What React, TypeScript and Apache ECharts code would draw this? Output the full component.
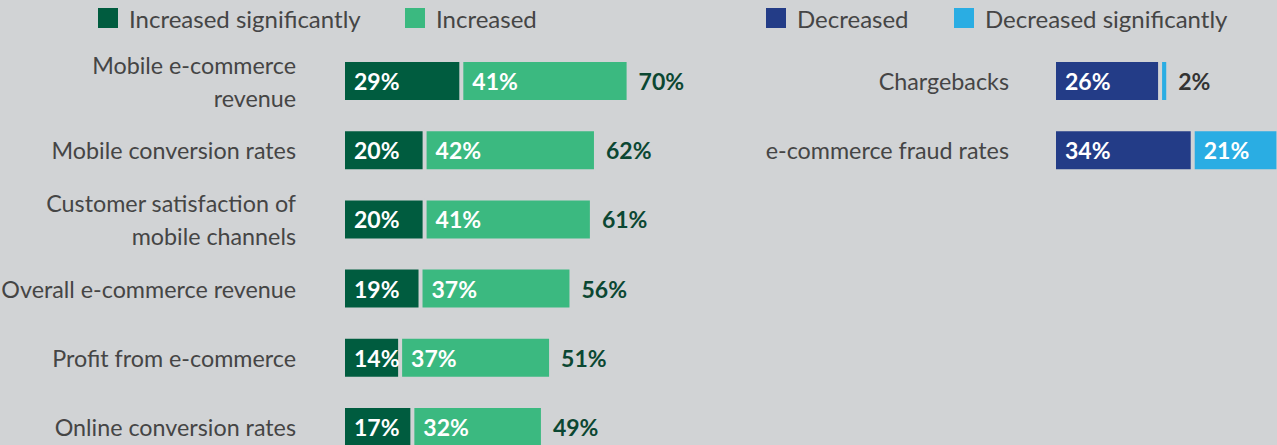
import React, { useEffect, useRef } from "react";
import * as echarts from "echarts";

const categories = [
  "Mobile e-commerce\nrevenue",
  "Mobile conversion rates",
  "Customer satisfaction of\nmobile channels",
  "Overall e-commerce revenue",
  "Profit from e-commerce",
  "Online conversion rates",
];
const increasedSignificantly = [29, 20, 20, 19, 14, 17];
const increased = [41, 42, 41, 37, 37, 32];
const totals = [70, 62, 61, 56, 51, 49];

const decreaseCategories = ["Chargebacks", "e-commerce fraud rates"];
const decreased = [26, 34];
const decreasedSignificantly = [2, 21];

const BG = "#d1d3d5";
const DARK_GREEN = "#005c3f";
const GREEN = "#3bb980";
const NAVY = "#233c87";
const LIGHT_BLUE = "#2aade3";
const FONT = "Lato";
const TEXT = "#454545";
const FS = 24;
const AXIS_FS = 23.3;
const BAR_FS = 23;

export default function App() {
  const ref = useRef<HTMLDivElement>(null);
  useEffect(() => {
    if (!ref.current) return;
    const chart = echarts.init(ref.current, undefined, { renderer: "svg" });
    const barBase = {
      type: "bar",
      barWidth: 42,
      itemStyle: { borderColor: BG, borderWidth: 2 },
    };
    const inLabel = {
      show: true,
      position: "insideLeft",
      distance: 11,
      color: "#ffffff",
      fontWeight: "bold",
      fontSize: BAR_FS,
      fontFamily: FONT,
      formatter: "{c}%",
    };
    const legendBase = {
      top: 6,
      padding: 0,
      itemWidth: 22,
      itemHeight: 22,
      icon: "rect",
      selectedMode: false,
      textStyle: { fontSize: FS, color: TEXT, fontFamily: FONT, padding: [0, 0, 0, 5] },
    };
    chart.setOption({
      animation: false,
      backgroundColor: BG,
      textStyle: { fontFamily: FONT },
      legend: [
        { ...legendBase, left: 96, data: ["Increased significantly"] },
        { ...legendBase, left: 403, data: ["Increased"] },
        { ...legendBase, left: 764, data: ["Decreased"] },
        { ...legendBase, left: 952, data: ["Decreased significantly"] },
      ],
      grid: [
        { left: 343, top: 46.4, width: 408, height: 415.2, outerBoundsMode: "none", containLabel: false },
        { left: 1054, top: 46.4, width: 224.4, height: 138.4, outerBoundsMode: "none", containLabel: false },
      ],
      xAxis: [
        { gridIndex: 0, type: "value", min: 0, max: 100, show: false },
        { gridIndex: 1, type: "value", min: 0, max: 55, show: false },
      ],
      yAxis: [
        {
          gridIndex: 0,
          type: "category",
          inverse: true,
          data: categories,
          axisLine: { show: false },
          axisTick: { show: false },
          axisLabel: { margin: 47, fontSize: AXIS_FS, color: TEXT, lineHeight: 33, fontFamily: FONT, align: "right" },
        },
        {
          gridIndex: 1,
          type: "category",
          inverse: true,
          data: decreaseCategories,
          axisLine: { show: false },
          axisTick: { show: false },
          axisLabel: { margin: 45, fontSize: AXIS_FS, color: TEXT, lineHeight: 33, fontFamily: FONT, align: "right" },
        },
      ],
      series: [
        {
          ...barBase,
          name: "Increased significantly",
          stack: "inc",
          xAxisIndex: 0,
          yAxisIndex: 0,
          data: increasedSignificantly,
          itemStyle: { ...barBase.itemStyle, color: DARK_GREEN },
          label: inLabel,
        },
        {
          ...barBase,
          name: "Increased",
          stack: "inc",
          xAxisIndex: 0,
          yAxisIndex: 0,
          data: increased,
          itemStyle: { ...barBase.itemStyle, color: GREEN },
          label: inLabel,
        },
        {
          ...barBase,
          name: "Total",
          stack: "inc",
          xAxisIndex: 0,
          yAxisIndex: 0,
          data: totals.map(() => 0),
          itemStyle: { color: "transparent", borderWidth: 0 },
          label: {
            show: true,
            position: "right",
            distance: 10,
            color: "#0b4732",
            fontWeight: "bold",
            fontSize: BAR_FS,
            fontFamily: FONT,
            formatter: (p: any) => totals[p.dataIndex] + "%",
          },
        },
        {
          ...barBase,
          name: "Decreased",
          stack: "dec",
          xAxisIndex: 1,
          yAxisIndex: 1,
          data: decreased,
          itemStyle: { ...barBase.itemStyle, color: NAVY },
          label: inLabel,
        },
        {
          ...barBase,
          name: "Decreased significantly",
          stack: "dec",
          xAxisIndex: 1,
          yAxisIndex: 1,
          data: decreasedSignificantly.map((v) =>
            v < 5
              ? { value: v, label: { position: "right", distance: 10, color: "#333333" } }
              : { value: v }
          ),
          itemStyle: { ...barBase.itemStyle, color: LIGHT_BLUE },
          label: inLabel,
        },
      ],
    });
    return () => chart.dispose();
  }, []);
  return (
    <div
      style={{
        position: "absolute",
        left: 0,
        top: 0,
        width: 1277,
        height: 445,
        overflow: "hidden",
        background: BG,
      }}
    >
      <div ref={ref} style={{ width: 1277, height: 470 }} />
    </div>
  );
}
